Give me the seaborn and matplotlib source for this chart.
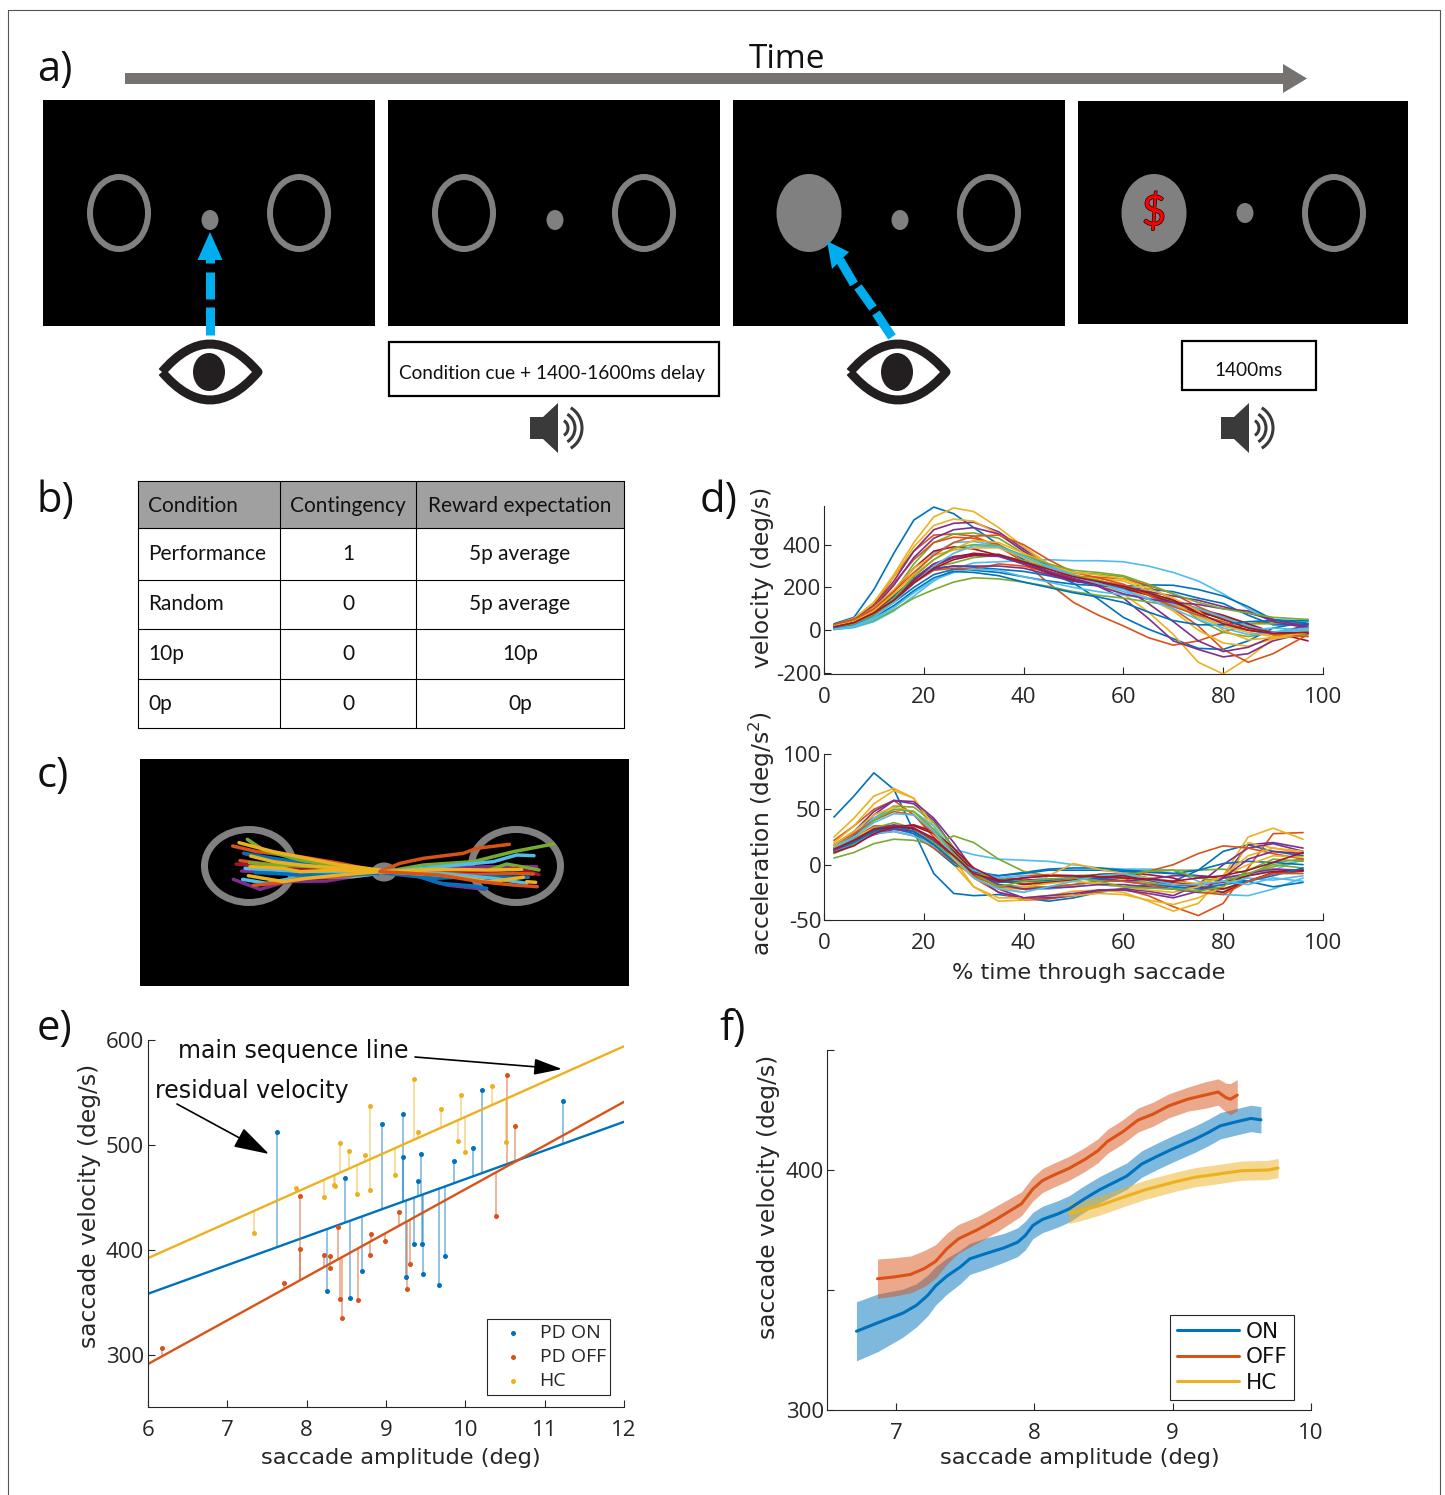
import numpy as np
import pandas as pd
import matplotlib
matplotlib.use('Agg')
import matplotlib.pyplot as plt
from matplotlib.patches import Ellipse, Rectangle, Polygon, PathPatch, Arc
from matplotlib.path import Path
import matplotlib.patheffects as pe
import seaborn as sns

W, H = 1445, 1495

matlab = ['#0072BD', '#D95319', '#EDB120', '#7E2F8E', '#77AC30', '#4DBEEE', '#A2142F']
BLUE, RED, YEL, PUR, GRN, LBL, DRK = matlab

# table (panel b)
table_cols = ['Condition', 'Contingency', 'Reward expectation']
table_rows = [['Performance', '1', '5p average'],
              ['Random', '0', '5p average'],
              ['10p', '0', '10p'],
              ['0p', '0', '0p']]

# panel d
pct_vel = [2, 6, 10, 14, 18, 22, 26, 30, 35, 40, 45, 50, 55, 60, 65, 70, 75, 80, 85, 90, 97]
velocity_curves = [
    [30, 60, 190, 360, 515, 576, 545, 480, 400, 330, 270, 220, 145, 60, 5, -40, -85, -90, -50, 10, 40],
    [25, 50, 120, 250, 370, 445, 450, 440, 390, 320, 220, 130, 70, 20, -35, -70, -50, -10, 30, 40, 25],
    [20, 50, 130, 260, 410, 530, 572, 555, 480, 390, 310, 240, 215, 170, 85, -20, -150, -205, -130, -40, 0],
    [25, 50, 115, 230, 370, 470, 500, 505, 460, 380, 300, 240, 205, 150, 55, -50, -90, -125, -110, -50, -10],
    [15, 35, 85, 180, 310, 410, 450, 455, 430, 360, 300, 270, 262, 250, 205, 140, 50, -10, -30, -10, 20],
    [3, 12, 40, 90, 160, 230, 285, 315, 320, 325, 330, 325, 325, 320, 300, 270, 230, 170, 100, 50, 40],
    [25, 45, 90, 160, 240, 310, 345, 355, 350, 320, 275, 240, 222, 200, 165, 120, 80, 60, 30, -10, -50],
    [25, 40, 85, 160, 240, 290, 300, 295, 285, 275, 255, 230, 212, 200, 192, 180, 150, 125, 70, 25, 25],
    [20, 45, 110, 220, 330, 410, 435, 430, 400, 340, 290, 250, 232, 210, 165, 100, 20, -90, -150, -110, -20],
    [25, 55, 130, 250, 390, 490, 520, 510, 450, 370, 310, 260, 235, 200, 150, 90, 0, -60, -75, -40, -20],
    [20, 45, 105, 210, 340, 430, 470, 480, 450, 370, 300, 250, 230, 200, 125, 40, -50, -100, -80, -30, 30],
    [5, 15, 45, 95, 150, 190, 225, 245, 240, 225, 205, 180, 163, 150, 132, 115, 95, 60, 30, 30, 50],
    [5, 18, 60, 140, 260, 360, 410, 415, 395, 340, 300, 260, 220, 180, 150, 120, 70, 20, 0, 10, 0],
    [25, 50, 100, 185, 290, 370, 390, 380, 350, 310, 265, 230, 215, 200, 172, 140, 100, 70, 30, -20, -15],
    [15, 30, 70, 130, 200, 260, 285, 280, 270, 250, 230, 215, 208, 205, 212, 210, 190, 160, 110, 50, 30],
    [15, 35, 80, 140, 220, 280, 290, 285, 310, 300, 270, 250, 248, 240, 210, 170, 110, 60, 20, -20, -10],
    [20, 45, 105, 190, 290, 350, 375, 385, 385, 340, 290, 250, 242, 230, 185, 130, 60, 20, -10, -30, -5],
    [20, 40, 85, 150, 230, 285, 300, 300, 300, 290, 260, 230, 212, 200, 180, 160, 140, 110, 80, 50, 15],
    [10, 25, 65, 135, 230, 295, 315, 340, 350, 325, 290, 255, 232, 205, 170, 135, 90, 50, 15, -20, -20],
    [3, 15, 50, 105, 175, 235, 270, 285, 280, 250, 225, 200, 180, 165, 148, 130, 100, 60, 20, -10, 0],
    [20, 40, 85, 150, 230, 300, 340, 360, 350, 310, 270, 235, 215, 195, 165, 130, 90, 50, 10, -10, -15],
    [10, 25, 60, 115, 185, 245, 275, 270, 255, 225, 200, 175, 155, 130, 85, 45, 25, 25, 40, 45, 45],
    [25, 50, 100, 180, 270, 350, 410, 440, 445, 400, 330, 270, 245, 215, 165, 110, 70, 40, 0, -20, -30],
    [20, 40, 90, 170, 260, 330, 380, 420, 410, 360, 310, 270, 258, 240, 195, 150, 90, 0, -45, -35, -10],
    [15, 35, 80, 150, 240, 310, 340, 350, 345, 310, 275, 240, 205, 170, 145, 130, 120, 100, 90, 40, 10],
    [15, 30, 75, 150, 250, 330, 385, 400, 395, 350, 310, 280, 270, 255, 215, 170, 130, 100, 80, 60, 50],
    [5, 20, 60, 130, 220, 300, 360, 395, 390, 345, 295, 250, 218, 190, 145, 100, 50, 10, -20, -10, 10],
    [15, 35, 80, 140, 220, 290, 330, 350, 355, 320, 285, 250, 228, 205, 175, 140, 80, 30, 0, -15, -10],
]
pct_acc = [2, 6, 10, 14, 18, 22, 26, 30, 35, 40, 45, 50, 55, 60, 65, 70, 75, 80, 85, 90, 96]
acceleration_curves = [
    [43, 62, 83, 68, 30, -8, -26, -28, -27, -30, -33, -30, -25, -22, -18, -15, -5, 12, 18, 12, 8],
    [22, 35, 50, 58, 45, 25, 5, -12, -25, -32, -31, -28, -24, -22, -28, -38, -46, -35, -3, 28, 29],
    [25, 42, 62, 69, 60, 30, 0, -20, -33, -32, -28, -24, -23, -25, -33, -42, -35, -10, 25, 33, 23],
    [18, 30, 48, 58, 55, 40, 15, -10, -25, -30, -30, -28, -23, -23, -26, -30, -24, -12, 18, 20, 15],
    [15, 26, 42, 53, 52, 38, 15, -6, -18, -20, -20, -18, -15, -14, -16, -20, -25, -25, -10, 2, 5],
    [12, 20, 30, 32, 28, 20, 14, 9, 5, 4, 3, 0, -3, -4, -4, -5, -15, -27, -28, -22, -12],
    [12, 18, 30, 35, 32, 22, 8, -5, -12, -14, -13, -12, -9, -8, -9, -12, -20, -25, -15, -8, -6],
    [12, 18, 30, 33, 28, 15, 0, -8, -10, -7, -4, -3, -3, -5, -6, -8, -10, -12, -15, -20, -16],
    [15, 24, 35, 35, 30, 18, 5, -8, -15, -17, -16, -14, -12, -12, -14, -15, -20, -22, -15, -8, -5],
    [20, 35, 55, 67, 60, 35, 5, -20, -30, -30, -28, -28, -26, -27, -32, -36, -30, -20, 20, 15, 10],
    [15, 26, 45, 58, 57, 42, 20, -5, -22, -30, -28, -26, -23, -22, -24, -28, -18, 0, 15, 19, 12],
    [6, 11, 19, 23, 22, 18, 26, 20, 5, -6, -10, -10, -9, -8, -6, -5, -5, -4, -8, -2, 4],
    [16, 28, 42, 50, 48, 35, 12, -8, -20, -22, -22, -20, -14, -10, -14, -20, -17, -12, -10, -5, 5],
    [15, 20, 32, 35, 35, 28, 12, -6, -14, -15, -14, -12, -9, -8, -12, -16, -18, -16, -10, -6, -5],
    [14, 22, 33, 34, 30, 20, 5, -6, -10, -8, -5, -5, -5, -6, -7, -8, -5, 1, 3, 2, 0],
    [12, 20, 28, 30, 26, 15, 2, -8, -12, -10, -9, -10, -12, -15, -6, 0, 10, 17, 15, 10, 5],
    [15, 25, 33, 35, 30, 18, 3, -10, -20, -25, -10, 1, -4, -8, -12, -15, -17, -10, 0, 8, 7],
    [12, 20, 27, 32, 30, 18, 3, -8, -14, -12, -10, -10, -12, -15, -13, -10, -10, -12, -8, -4, -5],
    [10, 18, 33, 38, 33, 20, 5, -8, -12, -15, -15, -14, -11, -10, -6, -5, -12, -15, -8, 0, -3],
    [12, 20, 28, 30, 26, 17, 5, -5, -12, -10, -13, -15, -18, -20, -21, -22, -20, -18, -12, -14, -10],
    [11, 17, 28, 34, 36, 30, 15, -3, -14, -18, -16, -14, -11, -10, -14, -18, -20, -22, -15, -7, -5],
    [13, 20, 30, 35, 30, 18, 3, -10, -16, -15, -14, -12, -13, -15, -18, -20, -22, -18, -15, -10, -3],
    [18, 28, 40, 48, 45, 28, 8, -10, -20, -22, -20, -18, -15, -15, -18, -22, -25, -27, -15, -8, -8],
    [18, 30, 45, 52, 48, 30, 5, -12, -22, -20, -17, -15, -17, -20, -23, -25, -20, -10, 8, 15, 12],
    [13, 22, 32, 36, 33, 22, 8, -8, -18, -22, -21, -20, -18, -18, -20, -22, -25, -12, 5, 12, 10],
    [14, 24, 40, 50, 48, 32, 10, -8, -20, -15, -13, -12, -15, -20, -21, -22, -24, -20, -5, 5, 3],
    [14, 25, 38, 46, 45, 30, 8, -12, -22, -25, -20, -15, -10, -8, -13, -18, -18, -15, -18, -12, -15],
    [14, 22, 32, 34, 33, 24, 8, -8, -15, -12, -10, -10, -11, -12, -13, -15, -12, -10, -5, 2, 11],
]

# panel e
on_amp = [7.62, 8.25, 8.48, 8.55, 8.70, 8.95, 9.22, 9.22, 9.25, 9.35, 9.40, 9.44, 9.46, 9.47, 9.67, 9.74, 9.86, 10.10, 10.21, 11.23]
on_vel = [512, 361, 468, 354, 380, 520, 529, 488, 374, 405, 466, 491, 405, 377, 366, 394, 485, 497, 552, 542]
off_amp = [6.18, 7.72, 7.91, 7.92, 8.22, 8.29, 8.30, 8.40, 8.42, 8.44, 8.65, 8.80, 8.81, 8.99, 9.16, 9.26, 9.30, 10.39, 10.53, 10.63]
off_vel = [306, 368, 451, 401, 395, 394, 383, 422, 353, 335, 352, 395, 415, 408, 436, 363, 386, 432, 567, 518]
hc_amp = [7.34, 7.87, 8.22, 8.35, 8.36, 8.42, 8.53, 8.63, 8.74, 8.80, 8.80, 9.11, 9.35, 9.40, 9.69, 9.91, 9.95, 10.00, 10.33, 10.51]
hc_vel = [416, 459, 450, 462, 461, 502, 494, 453, 490, 457, 537, 471, 563, 512, 534, 504, 548, 493, 556, 503]
fit_x = [6, 12]
on_fit = [358, 522]
off_fit = [291, 541]
hc_fit = [392, 594]

# panel f
f_on_x = [6.713, 6.870, 7.050, 7.146, 7.229, 7.285, 7.367, 7.464, 7.533, 7.644, 7.782, 7.878, 7.934, 7.989, 8.058, 8.169, 8.251, 8.362, 8.472, 8.569, 8.666, 8.776, 8.887, 8.997, 9.163, 9.260, 9.343, 9.439, 9.564, 9.638]
f_on_y = [332.8, 336.4, 340.4, 343.6, 347.8, 351.7, 355.8, 359.6, 363.0, 365.1, 367.6, 369.9, 372.7, 376.9, 379.4, 381.7, 383.8, 388.0, 391.8, 394.6, 397.4, 402.5, 405.7, 408.7, 412.9, 415.7, 418.4, 419.8, 421.5, 420.9]
f_on_err = [12.3, 12, 10, 9, 8.5, 8, 7.5, 7, 6.5, 6.5, 6, 6, 6, 5.5, 5.5, 5.5, 5.5, 5.5, 5.5, 5.5, 5.5, 5.5, 5.5, 5.5, 5.5, 5.5, 5.5, 5.5, 5.5, 5.5]
f_off_x = [6.865, 6.981, 7.105, 7.202, 7.285, 7.367, 7.450, 7.588, 7.727, 7.906, 7.989, 8.058, 8.141, 8.251, 8.362, 8.459, 8.528, 8.638, 8.749, 8.859, 8.970, 9.108, 9.232, 9.329, 9.384, 9.417, 9.467]
f_off_y = [354.7, 355.4, 356.5, 358.9, 361.9, 367.2, 371.3, 375.1, 379.6, 385.9, 392.1, 395.6, 397.9, 400.7, 404.3, 408.0, 411.9, 415.9, 420.8, 423.3, 426.7, 429.5, 431.2, 432.5, 430.2, 429.5, 431.2]
f_off_err = [8.2, 8, 7.7, 7.5, 7, 6.5, 6, 5.5, 5.5, 5, 5, 5, 5, 5, 5, 5, 5, 5, 5, 5, 5, 5, 5.5, 5.5, 6, 6.5, 6.5]
f_hc_x = [8.251, 8.362, 8.472, 8.638, 8.804, 9.025, 9.163, 9.329, 9.494, 9.688, 9.762]
f_hc_y = [382.0, 383.5, 385.2, 388.6, 391.8, 395.2, 397.0, 398.3, 399.7, 400.0, 400.8]
f_hc_err = [4.3, 4.2, 4, 4, 4, 4, 4, 4, 4, 4, 4]

# panel c, gaze traces in pixels of the black box (3x)
gaze_traces = [
    (PUR, [720, 650, 560, 440, 360, 280], [340, 348, 363, 365, 388, 358]),
    (LBL, [720, 640, 500, 430, 380, 308], [340, 350, 350, 360, 370, 358]),
    (RED, [720, 600, 480, 420, 340], [338, 350, 355, 368, 376]),
    (RED, [720, 600, 480, 350, 278], [335, 310, 290, 275, 258]),
    (DRK, [720, 600, 480, 370, 310], [335, 320, 305, 295, 280]),
    (BLUE, [720, 560, 400, 312], [338, 320, 295, 280]),
    (RED, [720, 600, 480, 400, 300], [335, 325, 320, 315, 302]),
    (DRK, [720, 600, 480, 380, 288], [335, 330, 325, 320, 312]),
    (GRN, [720, 600, 480, 370, 322], [335, 320, 300, 270, 238]),
    (GRN, [720, 600, 480, 400, 328], [335, 325, 318, 315, 308]),
    (PUR, [720, 600, 480, 400, 305], [338, 340, 340, 335, 333]),
    (LBL, [720, 600, 480, 400, 315], [338, 338, 335, 330, 325]),
    (BLUE, [720, 600, 480, 400, 345], [340, 345, 345, 340, 338]),
    (YEL, [720, 600, 500, 400, 297], [330, 315, 295, 275, 248]),
    (YEL, [720, 600, 480, 400, 332], [332, 325, 315, 305, 288]),
    (YEL, [720, 600, 480, 430, 330], [335, 330, 335, 325, 320]),
    (YEL, [720, 600, 500, 430, 325], [335, 345, 355, 365, 347]),
    (PUR, [800, 920, 1035], [338, 375, 388]),
    (BLUE, [800, 900, 1000, 1040], [338, 370, 378, 385]),
    (RED, [720, 780, 850, 970, 1010, 1108], [335, 310, 295, 280, 265, 253]),
    (GRN, [720, 850, 1000, 1120, 1240], [338, 315, 305, 275, 252]),
    (PUR, [720, 900, 1050, 1190], [338, 325, 320, 320]),
    (GRN, [720, 900, 1020, 1100, 1197], [338, 345, 340, 312, 330]),
    (DRK, [720, 900, 1050, 1130, 1197], [335, 335, 335, 325, 344]),
    (RED, [720, 850, 1000, 1120, 1180], [335, 335, 345, 340, 342]),
    (BLUE, [720, 880, 1000, 1165], [338, 355, 350, 352]),
    (LBL, [720, 900, 1060, 1130, 1182], [338, 320, 305, 285, 287]),
    (LBL, [720, 900, 1060, 1160], [335, 340, 355, 370]),
    (YEL, [720, 900, 1050, 1145], [335, 328, 330, 328]),
    (YEL, [720, 900, 1050, 1150], [335, 345, 365, 352]),
    (YEL, [1160, 1187], [365, 367]),
    (RED, [720, 900, 1020, 1120, 1192], [335, 345, 365, 375, 380]),
]


def add_axes_px(fig, left, top, right, bottom):
    return fig.add_axes([left / W, 1 - bottom / H, (right - left) / W, (bottom - top) / H])


def style_axes(ax, xticks, yticks, xpad=9.5, ypad=2):
    sns.despine(ax=ax)
    ax.patch.set_alpha(0)
    ax.set_xticks(xticks)
    ax.set_yticks(yticks)
    ax.tick_params(axis='x', direction='in', length=5, width=0.8, pad=xpad, labelsize=16, color='#262626', labelcolor='#262626')
    ax.tick_params(axis='y', direction='in', length=5, width=0.8, pad=ypad, labelsize=16, color='#262626', labelcolor='#262626')
    for lab in ax.get_xticklabels() + ax.get_yticklabels():
        lab.set_fontfamily('Open Sans')
    for s in ax.spines.values():
        s.set_linewidth(0.8)
        s.set_color('#262626')


def set_labels(ax, fg, xlabel, xpos, ylabel, ypos):
    if xlabel:
        ax.set_xlabel(xlabel, fontsize=16.2, color='#262626', va='center', ha='center')
        ax.xaxis.set_label_coords(xpos[0], xpos[1], transform=fg.transData)
    ax.set_ylabel(ylabel, fontsize=16.8, color='#262626', va='center', ha='center')
    ax.yaxis.set_label_coords(ypos[0], ypos[1], transform=fg.transData)


def ring(ax, x, y, filled=False):
    if filled:
        ax.add_patch(Ellipse((x, y), 65, 78, fc='#808080', ec='none'))
    else:
        ax.add_patch(Ellipse((x, y), 58, 72, fc='none', ec='#808080', lw=6 * 0.72))


def dashed_arrow(ax, segments, head):
    for seg in segments:
        ax.plot([seg[0], seg[2]], [seg[1], seg[3]], color='#00AEEF', lw=9 * 0.72, solid_capstyle='butt')
    ax.add_patch(Polygon(head, closed=True, fc='#00AEEF', ec='none'))


def eye(ax, cx, cy):
    verts = [(cx - 48, cy), (cx, cy - 56), (cx + 48, cy), (cx, cy + 56), (cx - 48, cy)]
    codes = [Path.MOVETO, Path.CURVE3, Path.CURVE3, Path.CURVE3, Path.CURVE3]
    ax.add_patch(PathPatch(Path(verts, codes), fc='none', ec='#231F20', lw=9 * 0.72, joinstyle='round'))
    ax.add_patch(Ellipse((cx - 1, cy), 32, 38, fc='#231F20', ec='none'))


def speaker(ax, x):
    pts = [(x, 417), (x + 13, 417), (x + 28, 403), (x + 28, 453), (x + 13, 439), (x, 439)]
    ax.add_patch(Polygon(pts, closed=True, fc='#3A3A3A', ec='none'))
    for r in [16, 30, 44]:
        ax.add_patch(Arc((x + 30, 428), r, r * 1.05, theta1=-62, theta2=62, ec='#3A3A3A', lw=2.2))


sns.set_theme(style='ticks')
plt.rcParams['font.family'] = ['DejaVu Sans']
plt.rcParams['mathtext.default'] = 'regular'
plt.rcParams['axes.unicode_minus'] = False

fig = plt.figure(figsize=(W / 100, H / 100), dpi=100)

# background layer in image pixels, holds the schematic panels
bg = fig.add_axes([0, 0, 1, 1], zorder=0)
bg.set_xlim(0, W)
bg.set_ylim(H, 0)
bg.axis('off')

fg = fig.add_axes([0, 0, 1, 1], zorder=10)
fg.set_xlim(0, W)
fg.set_ylim(H, 0)
fg.axis('off')
fg.patch.set_alpha(0)

bg.add_patch(Rectangle((8, 10), 1432, 1500, fc='none', ec='#555555', lw=0.8))

for txt, x, y in [('a)', 37, 70), ('b)', 37, 501), ('c)', 37, 776), ('d)', 700, 501), ('e)', 37, 1029), ('f)', 719, 1029)]:
    bg.text(x, y, txt, fontsize=30, family='Open Sans', ha='left', va='center', color='#111111')

# a) timeline
bg.add_patch(Rectangle((125, 73), 1158, 11, fc='#767270', ec='none'))
bg.add_patch(Polygon([(1283, 64), (1307, 78.5), (1283, 93)], closed=True, fc='#767270', ec='none'))
bg.text(787, 59, 'Time', fontsize=24, family='Open Sans', ha='center', va='center', color='#111111')

for x0, y0, x1, y1 in [(43, 100, 375, 326), (388, 100, 720, 326), (733, 100, 1065, 326), (1078, 101, 1408, 324)]:
    bg.add_patch(Rectangle((x0, y0), x1 - x0, y1 - y0, fc='black', ec='none'))

ring(bg, 119, 213); ring(bg, 299, 213)
ring(bg, 464, 213); ring(bg, 644, 213)
ring(bg, 809, 213, True); ring(bg, 989, 213)
ring(bg, 1154, 213, True); ring(bg, 1334, 213)
for x, y in [(210, 220), (555, 220), (900, 220), (1245, 213)]:
    bg.add_patch(Ellipse((x, y), 17, 20, fc='#808080', ec='none'))
bg.text(1154, 212, '$', fontsize=30, family='Lato', color='#FF0000', ha='center', va='center', parse_math=False,
        path_effects=[pe.withStroke(linewidth=0.9, foreground='black')])

dashed_arrow(bg, [(210, 335, 210, 307), (210, 299, 210, 272), (210, 263, 210, 255)], [(210, 232), (222.5, 260), (197.5, 260)])
dashed_arrow(bg, [(892, 337, 876, 313), (873, 308, 858, 287), (854, 284, 840, 260)], [(827, 241), (849, 252), (832, 269)])
eye(bg, 210, 372)
eye(bg, 898, 372)
speaker(bg, 530)
speaker(bg, 1221)

bg.add_patch(Rectangle((389, 342), 330, 54, fc='white', ec='black', lw=1.6))
bg.text(552, 374, 'Condition cue + 1400-1600ms delay', fontsize=13.7, family='Lato', ha='center', va='center', color='#111111')
bg.add_patch(Rectangle((1182, 341), 134, 49, fc='white', ec='black', lw=1.6))
bg.text(1249, 371, '1400ms', fontsize=13.7, family='Lato', ha='center', va='center', color='#111111')

# b) table
col_x = [138, 280, 416, 624]
row_y = [481, 528, 580, 629, 679, 728]
bg.add_patch(Rectangle((col_x[0], row_y[0]), col_x[3] - col_x[0], row_y[1] - row_y[0], fc='#A0A0A0', ec='none'))
for x in col_x:
    bg.plot([x, x], [row_y[0], row_y[-1]], color='black', lw=0.8)
for y in row_y:
    bg.plot([col_x[0], col_x[3]], [y, y], color='black', lw=0.8)
bg.text(148, 506, table_cols[0], fontsize=15, family='Lato', ha='left', va='center', color='#111111')
bg.text(348, 506, table_cols[1], fontsize=15, family='Lato', ha='center', va='center', color='#111111')
bg.text(520, 506, table_cols[2], fontsize=15, family='Lato', ha='center', va='center', color='#111111')
for i, row in enumerate(table_rows):
    y = (row_y[i + 1] + row_y[i + 2]) / 2
    bg.text(148, y, row[0], fontsize=15, family='Lato', ha='left', va='center', color='#111111')
    bg.text(348, y, row[1], fontsize=15, family='Lato', ha='center', va='center', color='#111111')
    bg.text(520, y, row[2], fontsize=15, family='Lato', ha='center', va='center', color='#111111')

# c) gaze traces
bg.add_patch(Rectangle((140, 759), 489, 227, fc='black', ec='none'))
bg.add_patch(Ellipse((249, 866), 89, 73, fc='none', ec='#808080', lw=7 * 0.72))
bg.add_patch(Ellipse((516, 866), 89, 73, fc='none', ec='#808080', lw=7 * 0.72))
bg.add_patch(Ellipse((384, 872), 25, 19, fc='#808080', ec='none'))
for col, xs, ys in gaze_traces:
    bg.plot(np.array(xs) / 3 + 140, np.array(ys) / 3 + 760, color=col, lw=2.5, solid_capstyle='round', solid_joinstyle='round')


def curve_frame(curves, pct):
    rows = []
    for i, c in enumerate(curves):
        rows.append(pd.DataFrame({'pct': pct, 'value': c, 'curve': i}))
    return pd.concat(rows, ignore_index=True)


curve_palette = {i: matlab[i % 7] for i in range(28)}

# d) velocity
ax = add_axes_px(fig, 824, 506, 1323, 674)
sns.lineplot(data=curve_frame(velocity_curves, pct_vel), x='pct', y='value', hue='curve', palette=curve_palette,
             estimator=None, legend=False, lw=1.2, ax=ax)
ax.set_xlim(0, 100)
ax.set_ylim(-205, 581)
style_axes(ax, [0, 20, 40, 60, 80, 100], [-200, 0, 200, 400])
set_labels(ax, fg, '', None, 'velocity (deg/s)', (762, 577))
ax.set_xlabel('')

# d) acceleration
ax = add_axes_px(fig, 824, 754, 1323, 920)
sns.lineplot(data=curve_frame(acceleration_curves, pct_acc), x='pct', y='value', hue='curve', palette=curve_palette,
             estimator=None, legend=False, lw=1.2, ax=ax)
ax.set_xlim(0, 100)
ax.set_ylim(-50, 100)
style_axes(ax, [0, 20, 40, 60, 80, 100], [-50, 0, 50, 100])
set_labels(ax, fg, '% time through saccade', (1089, 973), 'acceleration (deg/s$^{2}$)', (762, 833))

# e) main sequence
ax = add_axes_px(fig, 148, 1040, 624, 1407)
groups = [('PD ON', on_amp, on_vel, on_fit, BLUE), ('PD OFF', off_amp, off_vel, off_fit, RED), ('HC', hc_amp, hc_vel, hc_fit, YEL)]
for name, amp, vel, fit, col in groups:
    fitted = np.interp(amp, fit_x, fit)
    ax.vlines(amp, fitted, vel, color=col, alpha=0.5, lw=1.2)
    sns.lineplot(x=fit_x, y=fit, color=col, lw=1.7, ax=ax, legend=False)
    sns.scatterplot(x=amp, y=vel, color=col, s=13, linewidth=0, ax=ax, label=name, zorder=5)
ax.set_xlim(6, 12)
ax.set_ylim(250, 600)
style_axes(ax, [6, 7, 8, 9, 10, 11, 12], [300, 400, 500, 600], ypad=3)
set_labels(ax, fg, 'saccade amplitude (deg)', (401, 1458), 'saccade velocity (deg/s)', (90, 1206))
leg = ax.legend(loc='upper left', bbox_to_anchor=(487 / W, 1 - 1319 / H), bbox_transform=fig.transFigure, borderaxespad=0,
                frameon=True, fancybox=False, edgecolor='#262626', framealpha=1, prop={'family': 'Open Sans', 'size': 14},
                handletextpad=0.25, labelspacing=0.32, borderpad=0.25, handlelength=2.2)
leg.get_frame().set_linewidth(0.8)
for t in leg.get_texts():
    t.set_color('#262626')

fg.text(178, 1051, 'main sequence line', fontsize=17, ha='left', va='center', color='#111111')
fg.text(155, 1091, 'residual velocity', fontsize=17, ha='left', va='center', color='#111111')
fg.annotate('', xy=(562, 1069), xytext=(415, 1057), arrowprops=dict(arrowstyle='-|>,head_length=0.86,head_width=0.25', color='black', lw=1.2, mutation_scale=20, shrinkA=0, shrinkB=0))
fg.annotate('', xy=(269, 1154), xytext=(177, 1104), arrowprops=dict(arrowstyle='-|>,head_length=1.0,head_width=0.3', color='black', lw=1.2, mutation_scale=22, shrinkA=0, shrinkB=0))

# f) running averages
ax = add_axes_px(fig, 827, 1050, 1311, 1410)
f_series = [('ON', f_on_x, f_on_y, f_on_err, BLUE), ('OFF', f_off_x, f_off_y, f_off_err, RED), ('HC', f_hc_x, f_hc_y, f_hc_err, YEL)]
for name, x, y, err, col in f_series:
    y = np.array(y)
    err = np.array(err)
    ax.fill_between(x, y - err, y + err, color=col, alpha=0.5, lw=0)
    sns.lineplot(x=x, y=y, color=col, lw=2.2, ax=ax, label=name, sort=False, estimator=None)
ax.set_xlim(6.5, 10)
ax.set_ylim(300, 450)
style_axes(ax, [7, 8, 9, 10], [300, 350, 400, 450], ypad=2)
ax.set_yticklabels(['300', '', '400', ''])
for lab in ax.get_yticklabels():
    lab.set_fontfamily('Open Sans')
set_labels(ax, fg, 'saccade amplitude (deg)', (1080, 1458), 'saccade velocity (deg/s)', (768, 1197))
leg = ax.legend(loc='upper left', bbox_to_anchor=(1170 / W, 1 - 1315 / H), bbox_transform=fig.transFigure, borderaxespad=0,
                frameon=True, fancybox=False, edgecolor='#262626', framealpha=1, prop={'size': 15.5},
                handlelength=2.9, handletextpad=0.3, labelspacing=0.25, borderpad=0.32)
leg.get_frame().set_linewidth(0.8)
for t in leg.get_texts():
    t.set_color('#111111')

fig.savefig('out.png', dpi=100)
